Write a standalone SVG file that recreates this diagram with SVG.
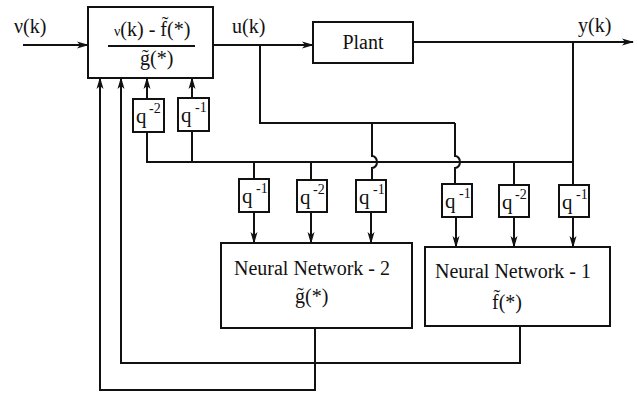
<svg xmlns="http://www.w3.org/2000/svg" width="638" height="394" viewBox="0 0 638 394">
<style>
.box{fill:#fff;stroke:#111;stroke-width:2}
.ln{fill:none;stroke:#111;stroke-width:2}
.t{font-family:"Liberation Serif","Times New Roman",serif;fill:#111;font-size:20px}
.q{font-family:"Liberation Serif","Times New Roman",serif;fill:#111;font-size:21px}
.s{font-family:"Liberation Serif","Times New Roman",serif;fill:#111;font-size:14px}
</style>
<defs>
<marker id="ar" viewBox="0 0 12 8" refX="11" refY="4" markerWidth="12" markerHeight="8" markerUnits="userSpaceOnUse" orient="auto">
<path d="M0,0.5 L12,4 L0,7.5 L3,4 z" fill="#111"/>
</marker>
</defs>
<rect width="638" height="394" fill="#fff"/>
<g id="connectors">
<path class="ln" d="M23,45 H88" marker-end="url(#ar)"/>
<path class="ln" d="M213,45 H313" marker-end="url(#ar)"/>
<path class="ln" d="M413,42 H633" marker-end="url(#ar)"/>
<path class="ln" d="M260,45 V123 H455"/>
<path class="ln" d="M372,123 V156 A5,6 0 0 1 372,168 V180"/>
<path class="ln" d="M455,123 V156 A5,6 0 0 1 455,168 V184"/>
<path class="ln" d="M573,42 V185"/>
<path class="ln" d="M147,132 V162 H573"/>
<path class="ln" d="M192,131 V162"/>
<path class="ln" d="M254,162 V179"/>
<path class="ln" d="M311,162 V180"/>
<path class="ln" d="M514,162 V185"/>
<path class="ln" d="M147,99 V78" marker-end="url(#ar)"/>
<path class="ln" d="M192,98 V78" marker-end="url(#ar)"/>
<path class="ln" d="M254,212 V243" marker-end="url(#ar)"/>
<path class="ln" d="M311,212 V243" marker-end="url(#ar)"/>
<path class="ln" d="M371,212 V243" marker-end="url(#ar)"/>
<path class="ln" d="M456,217 V247" marker-end="url(#ar)"/>
<path class="ln" d="M514,217 V247" marker-end="url(#ar)"/>
<path class="ln" d="M573,217 V247" marker-end="url(#ar)"/>
<path class="ln" d="M315,328 V390 H100 V78" marker-end="url(#ar)"/>
<path class="ln" d="M520,326 V363 H121 V78" marker-end="url(#ar)"/>
</g>
<g id="labels">
<text class="t" x="14" y="33" font-size="22">ν(k)</text>
<text class="t" x="232" y="33">u(k)</text>
<text class="t" x="578" y="32">y(k)</text>
</g>
<g id="controller">
<rect class="box" x="88" y="7" width="125" height="71"/>
<text class="t" x="114" y="36"><tspan font-size="14">ν</tspan><tspan>(k) - f̃(*)</tspan></text>
<line class="ln" x1="108" y1="46" x2="195" y2="46" stroke-width="1.5"/>
<text class="t" x="140" y="65">g̃(*)</text>
</g>
<g id="plant">
<rect class="box" x="313" y="22" width="100" height="41"/>
<text class="t" x="363" y="49" text-anchor="middle">Plant</text>
</g>
<g id="q1"><rect class="box" x="133" y="99" width="31" height="33"/><text class="q" x="136" y="123">q</text><text class="s" x="149" y="113">-2</text></g>
<g id="q2"><rect class="box" x="178" y="98" width="31" height="33"/><text class="q" x="181" y="122">q</text><text class="s" x="195" y="112">-1</text></g>
<g id="q3"><rect class="box" x="239" y="179" width="30" height="33"/><text class="q" x="242" y="203">q</text><text class="s" x="256" y="193">-1</text></g>
<g id="q4"><rect class="box" x="297" y="180" width="30" height="32"/><text class="q" x="300" y="204">q</text><text class="s" x="313" y="194">-2</text></g>
<g id="q5"><rect class="box" x="356" y="180" width="30" height="32"/><text class="q" x="359" y="204">q</text><text class="s" x="373" y="194">-1</text></g>
<g id="q6"><rect class="box" x="442" y="184" width="30" height="33"/><text class="q" x="445" y="208">q</text><text class="s" x="459" y="198">-1</text></g>
<g id="q7"><rect class="box" x="499" y="185" width="30" height="32"/><text class="q" x="502" y="209">q</text><text class="s" x="515" y="199">-2</text></g>
<g id="q8"><rect class="box" x="559" y="185" width="30" height="32"/><text class="q" x="562" y="209">q</text><text class="s" x="576" y="199">-1</text></g>
<g id="nn2">
<rect class="box" x="221" y="243" width="191" height="85"/>
<text class="t" x="312" y="275" text-anchor="middle">Neural Network - 2</text>
<text class="t" x="295" y="303">g̃(*)</text>
</g>
<g id="nn1">
<rect class="box" x="425" y="247" width="185" height="79"/>
<text class="t" x="513" y="278" text-anchor="middle">Neural Network - 1</text>
<text class="t" x="492" y="309">f̃(*)</text>
</g>
</svg>
